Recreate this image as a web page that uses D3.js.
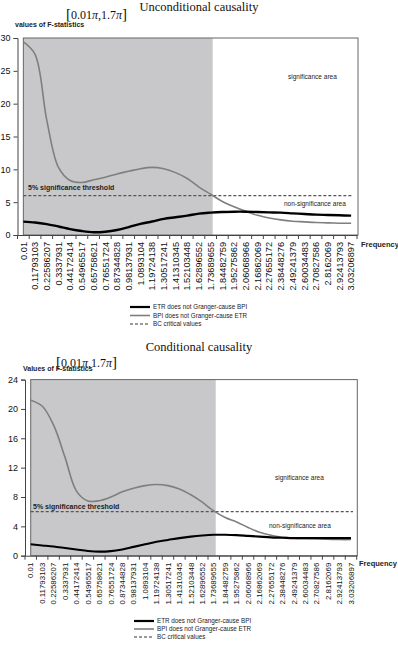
<!DOCTYPE html>
<html><head><meta charset="utf-8">
<script src="https://cdn.jsdelivr.net/npm/d3@7"></script>
<style>body{margin:0;background:#fff} svg{display:block}</style>
</head><body>
<svg id="c" width="398" height="645"></svg>
<script>
const categories = ["0.01","0.11793103","0.22586207","0.3337931","0.44172414","0.54965517","0.65758621","0.76551724","0.87344828","0.98137931","1.0893104","1.19724138","1.30517241","1.41310345","1.52103448","1.62896552","1.73689655","1.84482759","1.95275862","2.06068966","2.16862069","2.27655172","2.38448276","2.49241379","2.60034483","2.70827586","2.8162069","2.92413793","3.03206897"];
const uncondETR = [2.03,1.9,1.65,1.3,0.9,0.6,0.42,0.5,0.76,1.2,1.7,2.05,2.45,2.7,2.95,3.25,3.4,3.5,3.55,3.55,3.5,3.45,3.4,3.3,3.2,3.1,3.05,3.0,2.95];
const uncondBPI = [29.4,27.5,17.5,10.3,8.3,8.0,8.4,8.8,9.3,9.7,10.1,10.3,10.1,9.5,8.6,7.3,6.2,5.1,4.3,3.6,3.0,2.6,2.3,2.1,2.0,1.9,1.85,1.8,1.78];
const condETR = [1.55,1.4,1.25,1.05,0.85,0.65,0.55,0.62,0.85,1.2,1.55,1.9,2.15,2.4,2.6,2.75,2.85,2.85,2.8,2.7,2.6,2.5,2.45,2.4,2.4,2.4,2.4,2.4,2.4];
const condBPI = [21.2,20.4,17.8,13.4,8.8,7.45,7.5,8.0,8.7,9.2,9.55,9.7,9.55,9.1,8.3,7.3,6.1,5.2,4.6,3.85,3.2,2.8,2.5,2.4,2.35,2.3,2.25,2.2,2.2];
const criticalValue = 6;
const uncondYTicks = [0,5,10,15,20,25,30];
const condYTicks = [0,4,8,12,16,20,24];
const seriesNames = ["ETR does not Granger-cause BPI","BPI does not Granger-cause ETR","BC critical values"];
const shadedEndIndex = 16;

const svg = d3.select("#c");
const SANS = "'Liberation Sans', Arial, sans-serif";
const SERIF = "'Liberation Serif', 'Times New Roman', serif";

function drawChart(o){
  const g = svg.append("g");
  const x = d3.scaleBand().domain(categories).range([o.axisX, o.xEnd]).paddingInner(0).paddingOuter(0);
  const y = d3.scaleLinear().domain([0, o.yMax]).range([o.bottom, o.top]);
  const cx = c => x(c) + x.bandwidth()/2;
  const x0 = cx(categories[0]);

  // title
  g.append("text").attr("x", 199).attr("y", o.titleY).attr("text-anchor","middle")
    .attr("font-family", SERIF).attr("font-size", 12.5).attr("fill","#111").text(o.title);
  const br = g.append("text").attr("x", o.brX).attr("y", o.brY)
    .attr("font-family", SERIF).attr("font-size", 12).attr("fill","#111");
  br.append("tspan").attr("font-size",15).text("[");
  br.append("tspan").text("0.01");
  br.append("tspan").attr("font-style","italic").text("π");
  br.append("tspan").text(",1.7");
  br.append("tspan").attr("font-style","italic").text("π");
  br.append("tspan").attr("font-size",15).text("]");

  // plot box and shaded region
  g.append("rect").attr("x", x0).attr("y", o.top).attr("width", o.boxRight - x0).attr("height", o.bottom - o.top)
    .attr("fill","#fff");
  g.append("rect").attr("x", x0).attr("y", o.top).attr("width", cx(categories[shadedEndIndex]) - x0 + 2).attr("height", o.bottom - o.top)
    .attr("fill","#c8c8ca");
  g.append("rect").attr("x", x0).attr("y", o.top).attr("width", o.boxRight - x0).attr("height", o.bottom - o.top)
    .attr("fill","none").attr("stroke","#666").attr("stroke-width",1);

  // critical value dashed line
  g.append("line").attr("x1", x0).attr("x2", cx(categories[categories.length-1])+2)
    .attr("y1", y(criticalValue)).attr("y2", y(criticalValue))
    .attr("stroke","#555").attr("stroke-width",1.2).attr("stroke-dasharray","3,2");

  const line = d3.line().x((d,i)=>cx(categories[i])).y(d=>y(d)).curve(d3.curveCatmullRom.alpha(0.5));
  g.append("path").datum(o.bpi).attr("d", line).attr("fill","none").attr("stroke","#7f7f7f").attr("stroke-width",1.6);
  g.append("path").datum(o.etr).attr("d", line).attr("fill","none").attr("stroke","#000").attr("stroke-width",o.etrW);

  // y axis
  const ya = g.append("g").attr("transform", `translate(${o.axisX},0)`)
    .call(d3.axisLeft(y).tickValues(o.yTicks).tickSize(4).tickPadding(3).tickFormat(d3.format("d")));
  ya.select(".domain").attr("stroke","#444");
  ya.selectAll(".tick line").attr("stroke","#444");
  ya.selectAll("text").attr("font-family", SANS).attr("font-size", 9).attr("fill","#111");

  // x axis
  const xa = g.append("g").attr("transform", `translate(0,${o.bottom})`)
    .call(d3.axisBottom(x).tickSize(0).tickSizeOuter(0));
  xa.select(".domain").attr("stroke","#444");
  xa.selectAll("text").attr("font-family", SANS).attr("font-size", o.xFont).attr("fill","#111")
    .attr("text-anchor","end").attr("transform", "rotate(-90)")
    .attr("x", -7).attr("y", 0).attr("dy", "0.35em");
  // tick marks at category boundaries
  const bounds = d3.range(categories.length + 1).map(k => o.axisX + k * x.bandwidth());
  g.append("g").selectAll("line").data(bounds).join("line")
    .attr("x1", d=>d).attr("x2", d=>d).attr("y1", o.bottom).attr("y2", o.bottom + 4)
    .attr("stroke","#444");

  // axis titles
  g.append("text").attr("x", o.yLabX).attr("y", o.yLabY).attr("font-family", SANS).attr("font-weight","bold")
    .attr("font-size", 7).attr("fill","#222").text(o.yLabel);
  g.append("text").attr("x", o.freqX).attr("y", o.freqY).attr("font-family", SANS).attr("font-weight","bold")
    .attr("font-size", 7.5).attr("fill","#222").text("Frequency");

  // annotations
  g.append("text").attr("x", o.thrX).attr("y", o.thrY).attr("font-family", SANS).attr("font-weight","bold")
    .attr("font-size", 7).attr("fill","#222").text("5% significance threshold");
  g.append("text").attr("x", o.sigX).attr("y", o.sigY).attr("font-family", SANS)
    .attr("font-size", 6.5).attr("fill","#222").text("significance area");
  g.append("text").attr("x", o.nsigX).attr("y", o.nsigY).attr("font-family", SANS)
    .attr("font-size", 6.5).attr("fill","#222").text("non-significance area");

  // legend
  const styles = [{c:"#000", w:2.2, d:null},{c:"#7f7f7f", w:1.6, d:null},{c:"#333", w:1, d:"3,2"}];
  seriesNames.forEach((n,i)=>{
    const yy = o.legY + i * o.legDy;
    g.append("line").attr("x1", o.legX).attr("x2", o.legX + 20).attr("y1", yy).attr("y2", yy)
      .attr("stroke", styles[i].c).attr("stroke-width", styles[i].w).attr("stroke-dasharray", styles[i].d);
    g.append("text").attr("x", o.legX + 23).attr("y", yy + 2.3).attr("font-family", SANS)
      .attr("font-size", 6.3).attr("fill","#222").text(n);
  });
}

drawChart({
  title:"Unconditional causality", titleY:11, brX:66, brY:19,
  top:38, bottom:235, yMax:30, yTicks:uncondYTicks, axisX:17.5, xEnd:357, boxRight:358,
  etr:uncondETR, bpi:uncondBPI, xFont:9.2, etrW:2.4,
  yLabel:"values of F-statistics", yLabX:15, yLabY:27,
  freqX:361, freqY:247, thrX:28, thrY:190, sigX:288, sigY:79, nsigX:284, nsigY:206,
  legX:130, legY:307, legDy:8.5
});
drawChart({
  title:"Conditional causality", titleY:351, brX:56, brY:367,
  top:379.6, bottom:555.7, yMax:24, yTicks:condYTicks, axisX:25, xEnd:356.7, boxRight:357.3,
  etr:condETR, bpi:condBPI, xFont:7.9, etrW:2.1,
  yLabel:"Values of F-statistics", yLabX:23, yLabY:371,
  freqX:359, freqY:566, thrX:33, thrY:509, sigX:275, sigY:480, nsigX:269, nsigY:528,
  legX:134, legY:621, legDy:8
});
</script>
</body></html>
